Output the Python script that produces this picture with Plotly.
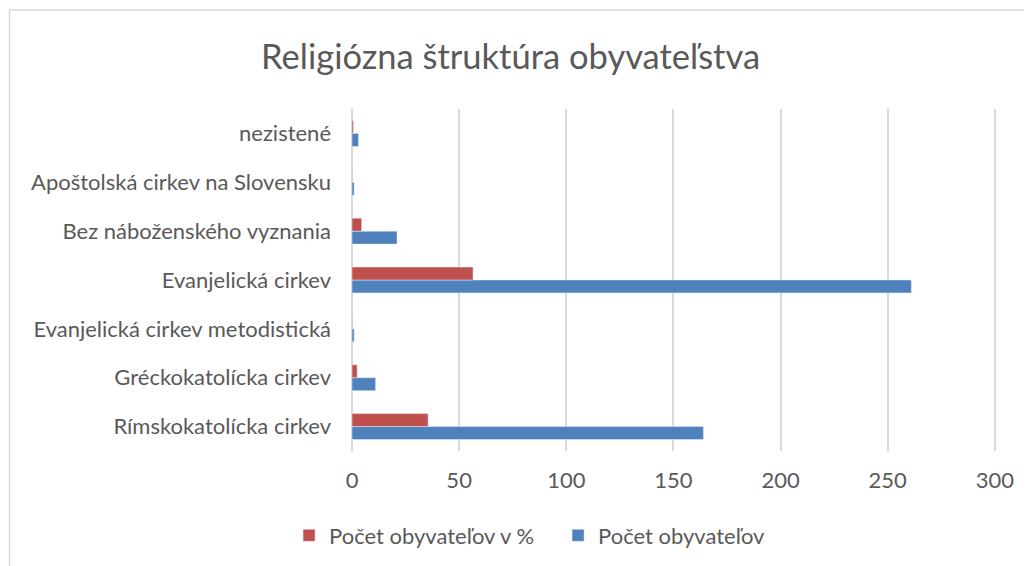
import plotly.graph_objects as go

categories = ["Rímskokatolícka cirkev", "Gréckokatolícka cirkev", "Evanjelická cirkev metodistická",
              "Evanjelická cirkev", "Bez náboženského vyznania", "Apoštolská cirkev na Slovensku", "nezistené"]
pocet = [164, 11, 1, 261, 21, 1, 3]
pocet_pct = [35.5, 2.4, 0.22, 56.5, 4.5, 0.22, 0.65]
x_ticks = [0, 50, 100, 150, 200, 250, 300]

font = "Lato, 'Open Sans', sans-serif"
fig = go.Figure()
fig.add_trace(go.Bar(y=categories, x=pocet, orientation="h", name="Počet obyvateľov",
                     marker=dict(color="#4f81bd")))
fig.add_trace(go.Bar(y=categories, x=pocet_pct, orientation="h", name="Počet obyvateľov v %",
                     marker=dict(color="#c0504d")))

fig.update_layout(
    width=1032, height=566,
    paper_bgcolor="white", plot_bgcolor="white",
    margin=dict(l=344, r=43, t=101, b=123),
    barmode="group", bargap=0.47, bargroupgap=0,
    font=dict(family=font, color="#595959", size=22),
    title=dict(text="Religiózna štruktúra obyvateľstva", xref="container", yref="container",
               x=0.487, y=0.913, xanchor="center", yanchor="middle",
               font=dict(size=34.5, color="#595959", family=font)),
    legend=dict(orientation="h", xref="container", yref="container", x=0.533, y=0.068,
                xanchor="center", yanchor="middle", traceorder="reversed",
                font=dict(size=22, color="#595959"),
                entrywidth=224, entrywidthmode="pixels"),
    showlegend=True,
    shapes=[dict(type="rect", xref="paper", yref="paper", x0=-0.531, x1=1.2, y0=-0.5, y1=1.2895,
                 line=dict(color="#d9d9d9", width=1.5), fillcolor="rgba(0,0,0,0)", layer="below")],
)
fig.update_xaxes(range=[0, 301], tickvals=x_ticks, showgrid=True, gridcolor="#d9d9d9", gridwidth=1.5,
                 zeroline=True, zerolinecolor="#d9d9d9", zerolinewidth=1.5, showline=False,
                 automargin=False, ticklabelstandoff=14, tickfont=dict(size=22, color="#595959"))
fig.update_yaxes(showgrid=False, showline=False, automargin=False, ticklabelstandoff=20,
                 tickfont=dict(size=22, color="#595959"))
fig.write_html("out.html")
